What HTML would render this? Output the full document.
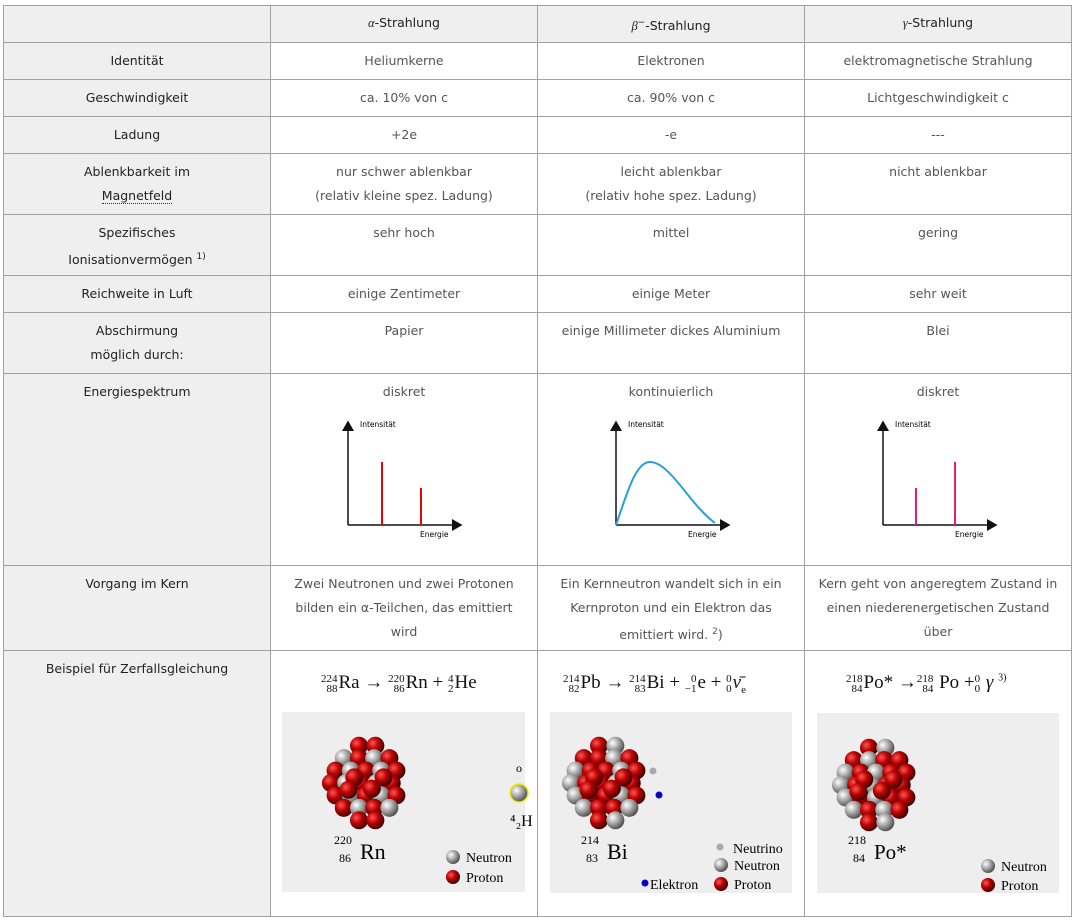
<!DOCTYPE html>
<html><head><meta charset="utf-8"><style>
body{margin:0;width:1073px;height:921px;background:#fff;font-family:"DejaVu Sans","Liberation Sans",sans-serif;position:relative;overflow:hidden}
.c{position:absolute;box-sizing:border-box;border-left:1px solid #a2a2a2;border-top:1px solid #a2a2a2;text-align:center;font-size:12.5px;color:#555;line-height:24px;padding-top:6px}
.g{background:#efefef;color:#222}
.eq{position:absolute;font-family:"Liberation Serif",serif;font-size:19px;color:#111;white-space:nowrap}
.st{display:inline-block;vertical-align:middle;font-size:11px;line-height:10px;text-align:right;margin-right:1px}
.box{position:absolute;background:#eeeeee;overflow:hidden}
</style></head><body>
<div id="t"></div>
<svg width="1073" height="921" style="position:absolute;left:0;top:0" id="s">
<defs>
<radialGradient id="gr" cx="35%" cy="35%" r="65%"><stop offset="0" stop-color="#fff"/><stop offset="0.5" stop-color="#aaa"/><stop offset="1" stop-color="#555"/></radialGradient>
<radialGradient id="rd" cx="35%" cy="35%" r="65%"><stop offset="0" stop-color="#f55"/><stop offset="0.5" stop-color="#b00"/><stop offset="1" stop-color="#400"/></radialGradient>
<marker id="ar" markerWidth="8" markerHeight="8" refX="6" refY="4" orient="auto"><path d="M0,0L7,4L0,8z" fill="#111"/></marker>
</defs>
</svg>
<script>
var xs=[3,270,537,804,1071],ys=[5,42,79,116,153,214,275,312,373,565,650,916];
var rows=[["","<i style='font-family:Liberation Serif'>α</i>-Strahlung","<i style='font-family:Liberation Serif'>β</i><sup style='font-size:9px'>−</sup>-Strahlung","<i style='font-family:Liberation Serif'>γ</i>-Strahlung"],
["Identität","Heliumkerne","Elektronen","elektromagnetische Strahlung"],
["Geschwindigkeit","ca. 10% von c","ca. 90% von c","Lichtgeschwindigkeit c"],
["Ladung","+2e","-e","---"],
["Ablenkbarkeit im<br><span style='border-bottom:1px dotted #333'>Magnetfeld</span>","nur schwer ablenkbar<br>(relativ kleine spez. Ladung)","leicht ablenkbar<br>(relativ hohe spez. Ladung)","nicht ablenkbar"],
["Spezifisches<br>Ionisationvermögen <sup style='font-size:9px'>1)</sup>","sehr hoch","mittel","gering"],
["Reichweite in Luft","einige Zentimeter","einige Meter","sehr weit"],
["Abschirmung<br>möglich durch:","Papier","einige Millimeter dickes Aluminium","Blei"],
["Energiespektrum","diskret","kontinuierlich","diskret"],
["Vorgang im Kern","Zwei Neutronen und zwei Protonen bilden ein α-Teilchen, das emittiert wird","Ein Kernneutron wandelt sich in ein Kernproton und ein Elektron das emittiert wird. <sup style='font-size:9px'>2</sup>)","Kern geht von angeregtem Zustand in<br>einen niederenergetischen Zustand<br>über"],
["Beispiel für Zerfallsgleichung","","",""]];
var h="";
for(var r=0;r<rows.length;r++)for(var c=0;c<4;c++){
 var g=(r==0||c==0)?" g":"";
 var st="left:"+xs[c]+"px;top:"+ys[r]+"px;width:"+(xs[c+1]-xs[c]+(c==3?1:0))+"px;height:"+(ys[r+1]-ys[r]+(r==10?1:0))+"px;";
 if(c==3)st+="border-right:1px solid #a2a2a2;";if(r==10)st+="border-bottom:1px solid #a2a2a2;";
 if(r==0)st+="padding-top:5px;";
 if(r==9)st+=(c==3?"padding:6px 2px;white-space:nowrap;":"padding:6px 14px;");
 h+="<div class='c"+g+"' style='"+st+"'>"+rows[r][c]+"</div>";
}
h+="<div class='eq' style='left:321px;top:672px'><span class='st'>224<br>88</span>Ra → <span class='st'>220<br>86</span>Rn + <span class='st'>4<br>2</span>He</div>";
h+="<div class='eq' style='left:563px;top:672px'><span class='st'>214<br>82</span>Pb → <span class='st'>214<br>83</span>Bi + <span class='st'>0<br>−1</span>e + <span class='st'>0<br>0</span><i>ν̄</i><sub style='font-size:11px'>e</sub></div>";
h+="<div class='eq' style='left:846px;top:672px'><span class='st'>218<br>84</span>Po* →<span class='st'>218<br>84</span> Po +<span class='st'>0<br>0</span> <i>γ</i> <sup style='font-size:10px'>3)</sup></div>";
h+="<div class='box' style='left:282px;top:712px;width:243px;height:180px'></div>";
h+="<div class='box' style='left:550px;top:712px;width:242px;height:181px'></div>";
h+="<div class='box' style='left:817px;top:713px;width:242px;height:180px'></div>";
document.getElementById("t").innerHTML=h;
var s=document.getElementById("s"),o="";
function ax(x0){o+="<line x1='"+x0+"' y1='525' x2='"+x0+"' y2='422' stroke='#111' stroke-width='1.5' marker-end='url(#ar)'/><line x1='"+x0+"' y1='525' x2='"+(x0+113)+"' y2='525' stroke='#111' stroke-width='1.5' marker-end='url(#ar)'/>";
o+="<text x='"+(x0+12)+"' y='427' font-size='7.5' font-family='DejaVu Sans'>Intensität</text><text x='"+(x0+72)+"' y='537' font-size='7.5' font-family='DejaVu Sans'>Energie</text>";}
ax(348);ax(616);ax(883);
o+="<line x1='382' y1='462' x2='382' y2='525' stroke='#e00' stroke-width='2'/><line x1='421' y1='488' x2='421' y2='525' stroke='#e00' stroke-width='2'/>";
o+="<line x1='916' y1='488' x2='916' y2='525' stroke='#e0207a' stroke-width='2'/><line x1='955' y1='462' x2='955' y2='525' stroke='#e0207a' stroke-width='2'/>";
o+="<path d='M616,525 C628,490 636,462 650,462 C670,462 690,505 715,523' fill='none' stroke='#2a9fd8' stroke-width='2'/>";
var pts=[[-6,-33],[8,-33],[-19,-22],[-6,-22],[7,-22],[20,-22],[-26,-11],[-13,-11],[0,-11],[13,-11],[26,-11],[-30,0],[-17,0],[-4,0],[9,0],[22,0],[-26,11],[-13,11],[0,11],[13,11],[26,11],[-19,22],[-6,22],[7,22],[20,22],[-6,33],[8,33],[-10,-5],[5,5],[15,-5],[-15,6]];
function nuc(cx,cy,k){for(var i=0;i<pts.length;i++){var red=((i*7+k)%5)<3||i>26;o+="<circle cx='"+(cx+pts[i][0]*1.17)+"' cy='"+(cy+pts[i][1]*1.13)+"' r='9' fill='url(#"+(red?"rd":"gr")+")'/>";}}
nuc(366,783,0);nuc(606,783,1);nuc(876,785,2);
o+="<circle cx='519' cy='793' r='9' fill='url(#gr)' stroke='#ee0' stroke-width='1.5'/><text x='516' y='772' font-size='12' font-family='Liberation Serif'>o</text><text x='510' y='826' font-size='16' font-family='Liberation Serif'>⁴₂H</text>";
o+="<circle cx='653' cy='771' r='3.5' fill='#aaa'/><circle cx='659' cy='795' r='3.5' fill='#0000cc'/>";
function lab(x,y,a,z,n,sz){o+="<text x='"+x+"' y='"+(y-9)+"' font-size='12' font-family='Liberation Serif'>"+a+"</text><text x='"+(x+5)+"' y='"+(y+9)+"' font-size='12' font-family='Liberation Serif'>"+z+"</text><text x='"+(x+26)+"' y='"+(y+6)+"' font-size='"+sz+"' font-family='Liberation Serif'>"+n+"</text>";}
lab(334,853,"220","86","Rn",22);lab(581,853,"214","83","Bi",22);lab(848,853,"218","84","Po*",21);
function leg(x,y,t,b){o+="<circle cx='"+x+"' cy='"+y+"' r='7' fill='url(#"+b+")'/><text x='"+(x+13)+"' y='"+(y+5)+"' font-size='14' font-family='Liberation Serif'>"+t+"</text>";}
leg(453,857,"Neutron","gr");leg(453,877,"Proton","rd");
leg(721,865,"Neutron","gr");leg(721,884,"Proton","rd");
o+="<circle cx='720' cy='847' r='3.5' fill='#aaa'/><text x='733' y='853' font-size='14' font-family='Liberation Serif'>Neutrino</text>";
o+="<circle cx='645' cy='883' r='3.5' fill='#0000cc'/><text x='650' y='889' font-size='14' font-family='Liberation Serif'>Elektron</text>";
leg(988,866,"Neutron","gr");leg(988,885,"Proton","rd");
s.innerHTML+=o;
</script>
</body></html>
